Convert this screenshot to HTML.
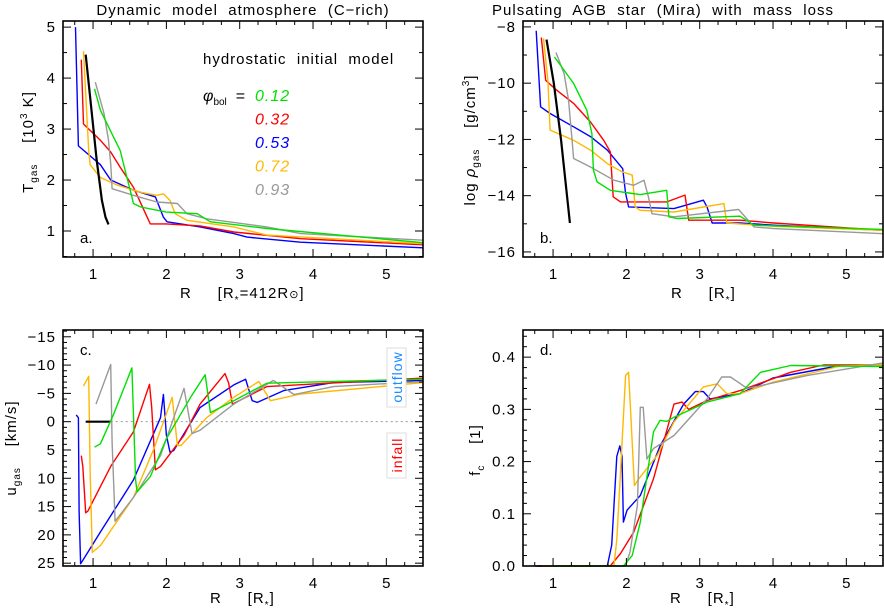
<!DOCTYPE html>
<html><head><meta charset="utf-8"><style>
body{margin:0;background:#fff}
svg{display:block;font-family:"Liberation Sans",sans-serif}
svg text{white-space:pre}
.t{letter-spacing:1px}
</style></head><body>
<svg id="chart" width="884" height="615" viewBox="0 0 884 615" xmlns="http://www.w3.org/2000/svg">
<text class="t" x="243" y="15" font-size="15" text-anchor="middle">Dynamic  model  atmosphere  (C−rich)</text>
<text class="t" x="663" y="15" font-size="15" text-anchor="middle">Pulsating  AGB  star  (Mira)  with  mass  loss</text>
<g id="plots"></g>
<text class="t" x="203" y="64" font-size="15">hydrostatic  initial  model</text>
<text x="203" y="101" font-size="16" font-style="italic">φ<tspan font-size="10" font-style="normal" dy="4">bol</tspan><tspan dy="-4" font-style="normal">  =</tspan></text>
<g id="legend"></g>
<text class="t" transform="translate(33,142) rotate(-90)" font-size="15" text-anchor="middle">T<tspan font-size="10" dy="4">gas</tspan><tspan dy="-4">    [10</tspan><tspan font-size="10" dy="-6">3</tspan><tspan dy="6"> K]</tspan></text>
<text class="t" transform="translate(475,140) rotate(-90)" font-size="15" text-anchor="middle">log <tspan font-style="italic">ρ</tspan><tspan font-size="10" dy="4">gas</tspan><tspan dy="-4">    [g/cm</tspan><tspan font-size="10" dy="-6">3</tspan><tspan dy="6">]</tspan></text>
<text class="t" transform="translate(16,448) rotate(-90)" font-size="15" text-anchor="middle">u<tspan font-size="10" dy="4">gas</tspan><tspan dy="-4">    [km/s]</tspan></text>
<text class="t" transform="translate(480,450) rotate(-90)" font-size="15" text-anchor="middle">f<tspan font-size="10" dy="4">c</tspan><tspan dy="-4">    [1]</tspan></text>
<text class="t" x="180" y="298" font-size="15">R     [R<tspan font-size="10" dy="5">*</tspan><tspan dy="-5">=412R</tspan><tspan font-size="11">⊙</tspan>]</text>
<text class="t" x="671" y="298" font-size="15">R     [R<tspan font-size="10" dy="5">*</tspan><tspan dy="-5">]</tspan></text>
<text class="t" x="210" y="603" font-size="15">R     [R<tspan font-size="10" dy="5">*</tspan><tspan dy="-5">]</tspan></text>
<text class="t" x="670" y="603" font-size="15">R     [R<tspan font-size="10" dy="5">*</tspan><tspan dy="-5">]</tspan></text>
<g>
<rect x="387" y="348" width="19" height="59" fill="#fff" stroke="#ddd"/>
<text transform="translate(402,377) rotate(-90)" font-size="14" fill="#1a8cff" text-anchor="middle" letter-spacing="1">outflow</text>
</g>
<g>
<rect x="387" y="433" width="19" height="45" fill="#fff" stroke="#ddd"/>
<text transform="translate(402,455) rotate(-90)" font-size="14" fill="#f00" text-anchor="middle" letter-spacing="1">infall</text>
</g>
</svg>
<script>
const colors={green:"#00e000",red:"#ff0000",blue:"#0000ff",orange:"#ffb800",gray:"#999999",black:"#000000"};
const seriesNames=["blue","red","orange","black","gray","green"];
const legendPhases=["0.12","0.32","0.53","0.72","0.93"];
const legendColors=["green","red","blue","orange","gray"];
// Panel a: T_gas [10^3 K]
const aBlue=[[0.76,5.0],[0.80,2.67],[1.1,2.3],[1.24,2.0],[1.55,1.8],[1.85,1.67],[1.96,1.27],[2.01,1.18],[2.46,1.08],[2.92,0.95],[3.1,0.88],[3.83,0.78],[5.5,0.67]];
const aRed=[[0.84,4.36],[0.87,3.1],[1.1,2.78],[1.24,2.55],[1.37,2.25],[1.55,1.86],[1.78,1.14],[2.0,1.14],[2.46,1.1],[2.92,0.98],[3.83,0.85],[5.5,0.73]];
const aOrange=[[0.87,4.53],[0.94,2.58],[0.96,2.3],[1.1,2.05],[1.33,1.9],[1.65,1.76],[1.87,1.7],[1.96,1.73],[2.05,1.6],[2.12,1.34],[2.28,1.21],[2.92,1.08],[3.37,0.92],[5.5,0.75]];
const aBlack=[[0.90,4.46],[0.96,3.63],[1.05,2.39],[1.12,1.6],[1.17,1.27],[1.21,1.13]];
const aGray=[[1.03,3.92],[1.15,3.3],[1.21,2.78],[1.24,2.32],[1.26,1.83],[1.55,1.7],[1.87,1.57],[2.15,1.54],[2.28,1.34],[2.55,1.24],[3.37,1.08],[3.83,0.95],[5.5,0.82]];
const aGreen=[[1.02,3.79],[1.1,3.37],[1.28,2.84],[1.37,2.58],[1.46,2.06],[1.53,1.67],[1.55,1.54],[1.65,1.47],[2.0,1.37],[2.42,1.34],[2.6,1.18],[3.37,1.05],[5.5,0.77]];
// Panel b: log rho
const bBlue=[[0.77,-8.14],[0.83,-10.84],[0.96,-11.08],[1.28,-11.55],[1.51,-11.9],[1.74,-12.38],[1.95,-13.04],[1.99,-13.92],[2.03,-14.4],[2.65,-14.46],[3.05,-14.16],[3.1,-14.4],[3.17,-14.97],[3.55,-14.97],[4.01,-15.05],[5.5,-15.23]];
const bRed=[[0.84,-8.38],[0.9,-9.9],[1.05,-10.25],[1.28,-10.72],[1.51,-11.38],[1.69,-12.03],[1.78,-12.44],[1.82,-14.04],[1.92,-14.22],[2.55,-14.22],[2.8,-13.98],[2.85,-14.87],[3.55,-14.87],[4.01,-14.97],[5.5,-15.23]];
const bOrange=[[0.87,-8.41],[0.93,-9.9],[0.96,-11.67],[1.28,-12.03],[1.51,-12.38],[1.74,-12.86],[1.94,-13.15],[2.08,-13.27],[2.12,-14.4],[2.19,-14.52],[2.65,-14.58],[3.33,-14.28],[3.37,-14.97],[4.01,-15.09],[5.5,-15.23]];
const bBlack=[[0.91,-8.45],[1.01,-10.0],[1.11,-12.03],[1.23,-14.97]];
const bGray=[[1.04,-8.91],[1.15,-9.66],[1.21,-10.6],[1.26,-12.03],[1.28,-12.68],[1.51,-12.98],[1.83,-13.45],[2.1,-13.63],[2.24,-13.45],[2.3,-14.04],[2.35,-14.64],[2.65,-14.75],[3.53,-14.49],[3.74,-15.11],[4.01,-15.17],[5.5,-15.35]];
const bGreen=[[1.02,-9.07],[1.28,-10.01],[1.46,-10.96],[1.53,-11.79],[1.55,-13.09],[1.6,-13.51],[1.78,-13.81],[2.19,-13.96],[2.55,-13.81],[2.58,-14.75],[2.69,-14.81],[3.55,-14.73],[3.74,-15.05],[5.5,-15.2]];
// Panel c: u_gas [km/s]
const cBlue=[[0.77,-1.2],[0.8,-0.7],[0.81,15.8],[0.83,25.1],[0.87,24.3],[1.1,19.5],[1.55,10.3],[1.92,-0.7],[1.96,-4.8],[2.0,2.4],[2.05,5.4],[2.1,5.1],[2.46,-2.5],[2.92,-6.5],[3.08,-7.5],[3.17,-3.7],[3.24,-3.4],[3.6,-5.5],[4.28,-6.9],[5.5,-7.3]];
const cRed=[[0.84,6.0],[0.86,7.9],[0.9,16.1],[0.93,15.8],[1.24,7.9],[1.55,1.8],[1.77,-6.6],[1.8,-2.5],[1.85,8.5],[1.92,7.9],[2.24,2.4],[2.46,-3.1],[2.8,-8.5],[2.85,-6.8],[2.9,-3.1],[3.37,-6.2],[5.5,-7.7]];
const cOrange=[[0.87,-6.3],[0.94,-8.0],[0.96,8.5],[0.99,23.1],[1.1,21.9],[1.55,13.4],[1.83,4.8],[2.08,-4.3],[2.15,4.2],[2.2,4.2],[2.55,-0.7],[2.92,-4.3],[3.26,-7.1],[3.42,-3.7],[3.83,-4.9],[5.5,-6.9]];
const cBlack=[[0.9,0],[1.24,0]];
const cGray=[[1.04,-3.1],[1.24,-10.1],[1.26,3.6],[1.3,17.6],[1.55,13.4],[1.92,6.0],[2.24,-5.9],[2.35,2.1],[2.46,1.5],[2.92,-3.1],[3.46,-7.3],[3.74,-4.8],[4.28,-6.2],[5.5,-7.1]];
const cGreen=[[1.02,4.5],[1.1,3.9],[1.28,-1.3],[1.53,-9.5],[1.58,10.3],[1.6,12.4],[1.78,9.7],[2.0,3.0],[2.33,-4.3],[2.53,-8.3],[2.6,-1.6],[2.92,-3.7],[3.37,-6.8],[5.5,-7.5]];
// Panel d: f_c
const dBlue=[[0.76,0],[1.74,0],[1.8,0.04],[1.87,0.21],[1.91,0.23],[1.94,0.21],[1.96,0.084],[2.01,0.107],[2.19,0.135],[2.46,0.23],[2.78,0.31],[2.94,0.334],[3.05,0.334],[3.14,0.32],[3.55,0.33],[4.0,0.36],[4.92,0.384],[5.5,0.384]];
const dRed=[[0.8,0],[1.78,0],[1.92,0.024],[2.1,0.065],[2.37,0.167],[2.65,0.31],[2.76,0.314],[2.85,0.3],[3.1,0.317],[3.55,0.336],[4.24,0.371],[4.69,0.385],[5.5,0.385]];
const dOrange=[[0.85,0],[1.83,0],[1.87,0.05],[1.92,0.18],[1.99,0.365],[2.03,0.371],[2.06,0.29],[2.11,0.154],[2.17,0.167],[2.42,0.212],[2.65,0.276],[3.05,0.343],[3.24,0.349],[3.37,0.33],[3.55,0.33],[4.0,0.352],[4.92,0.383],[5.5,0.385]];
const dBlack=[];
const dGray=[[0.9,0],[1.99,0],[2.05,0.027],[2.15,0.116],[2.19,0.304],[2.23,0.304],[2.28,0.205],[2.37,0.225],[2.65,0.25],[3.1,0.32],[3.3,0.362],[3.42,0.362],[3.65,0.34],[4.47,0.365],[5.5,0.389]];
const dGreen=[[1.0,0],[1.96,0],[2.08,0.02],[2.19,0.084],[2.37,0.257],[2.46,0.279],[2.55,0.277],[2.65,0.285],[3.1,0.314],[3.55,0.33],[3.83,0.371],[4.24,0.384],[5.5,0.382]];

const xTicks=[1,2,3,4,5];
const aYTicks=[1,2,3,4,5], bYTicks=[-16,-14,-12,-10,-8], cYTicks=[-15,-10,-5,0,5,10,15,20,25], dYTicks=[0,0.1,0.2,0.3,0.4];
const cYLabels=["−15","−10","−5","0","5","10","15","20","25"];
const bYLabels=["−16","−14","−12","−10","−8"];
const dYLabels=["0.0","0.1","0.2","0.3","0.4"];

const NS="http://www.w3.org/2000/svg";
const root=document.getElementById('plots');
function mk(tag,attrs,parent){const e=document.createElementNS(NS,tag);for(const k in attrs)e.setAttribute(k,attrs[k]);(parent||root).appendChild(e);return e;}

const panels=[
 {id:"a",L:63,R:423,T:21,B:257,x0:0.59,x1:5.5,y0:0.49,y1:5.12,yt:aYTicks,yl:aYTicks.map(String),yminor:0.5,data:[aBlue,aRed,aOrange,aBlack,aGray,aGreen],tag:"a."},
 {id:"b",L:523,R:883,T:21,B:257,x0:0.59,x1:5.5,y0:-16.18,y1:-7.79,yt:bYTicks,yl:bYLabels,yminor:1,data:[bBlue,bRed,bOrange,bBlack,bGray,bGreen],tag:"b."},
 {id:"c",L:63,R:423,T:330,B:566,x0:0.59,x1:5.5,y0:25.5,y1:-16.2,yt:cYTicks,yl:cYLabels,yminor:1,data:[cBlue,cRed,cOrange,cBlack,cGray,cGreen],tag:"c."},
 {id:"d",L:523,R:883,T:330,B:566,x0:0.59,x1:5.5,y0:0,y1:0.452,yt:dYTicks,yl:dYLabels,yminor:0.02,data:[dBlue,dRed,dOrange,dBlack,dGray,dGreen],tag:"d."}
];
panels.forEach(p=>{
 const g=mk('g',{});
 
 
 const sx=v=>p.L+(v-p.x0)/(p.x1-p.x0)*(p.R-p.L);
 const sy=v=>p.B-(v-p.y0)/(p.y1-p.y0)*(p.B-p.T);
 if(p.id==="c"){const z=mk('line',{x1:sx(0.9),x2:p.R,y1:sy(0),y2:sy(0),stroke:"#999","stroke-dasharray":"2,3","stroke-width":1},g);}
 p.data.forEach((arr,i)=>{
  if(!arr.length)return;
  const pl=mk('polyline',{points:arr.map(d=>sx(d[0]).toFixed(1)+","+sy(d[1]).toFixed(1)).join(" "),fill:"none",stroke:colors[seriesNames[i]],"stroke-width":seriesNames[i]==="black"?2.2:1.4,"stroke-linejoin":"round"},g);
  
  
 });
 const fr=mk('rect',{x:p.L,y:p.T,width:p.R-p.L,height:p.B-p.T,fill:"none",stroke:"#000","stroke-width":1.6},g);
 
 
 for(let v=0.75;v<=5.5001;v+=0.25){
  const X=sx(v);const major=Math.abs(v-Math.round(v))<1e-6;const len=major?8:4;
  mk('line',{x1:X,x2:X,y1:p.B,y2:p.B-len,stroke:"#000","stroke-width":1},g);
  mk('line',{x1:X,x2:X,y1:p.T,y2:p.T+len,stroke:"#000","stroke-width":1},g);
 }
 xTicks.forEach(v=>{const t=mk('text',{x:sx(v),y:p.B+22,"font-size":15,"text-anchor":"middle"},g);t.textContent=v;});
 const lo=Math.min(p.y0,p.y1),hi=Math.max(p.y0,p.y1);
 for(let v=Math.ceil(lo/p.yminor)*p.yminor;v<=hi+1e-9;v+=p.yminor){
  const Y=sy(v);const major=p.yt.some(t=>Math.abs(t-v)<1e-6);const len=major?8:4;
  mk('line',{x1:p.L,x2:p.L+len,y1:Y,y2:Y,stroke:"#000","stroke-width":1},g);
  mk('line',{x1:p.R,x2:p.R-len,y1:Y,y2:Y,stroke:"#000","stroke-width":1},g);
 }
 p.yt.forEach((v,i)=>{const t=mk('text',{x:p.L-7,y:sy(v)+5,"font-size":15,"text-anchor":"end","letter-spacing":1},g);t.textContent=p.yl[i];});
 const tg=mk('text',{x:p.L+17,y:p.id==="a"||p.id==="b"?p.B-14:p.T+25,"font-size":15},g);
 tg.textContent=p.tag;
 
 
});
const lg=document.getElementById('legend');
legendPhases.forEach((ph,i)=>{
 const t=mk('text',{x:255,y:101+i*23.5,"font-size":16,"font-style":"italic","letter-spacing":1,fill:colors[legendColors[i]]},lg);
 t.textContent=ph;
 
 
});
</script>
</body></html>
